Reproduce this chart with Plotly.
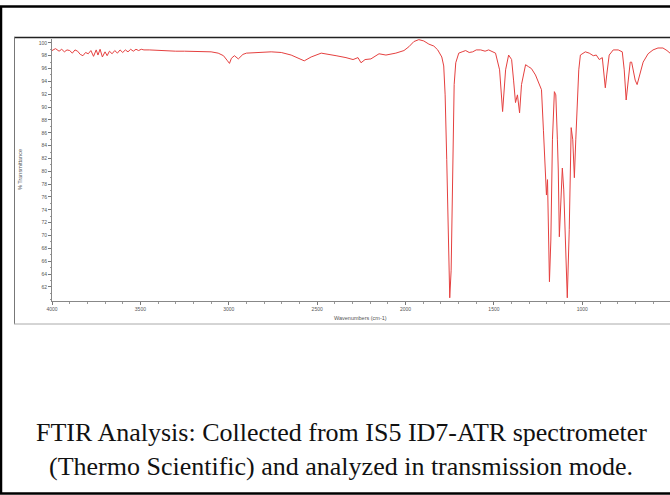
import plotly.graph_objects as go

# ---- data ----
wavenumber = [
    4000, 3980, 3960, 3945, 3930, 3915, 3900, 3885, 3870, 3855, 3840, 3825, 3810, 3795,
    3780, 3765, 3750, 3740, 3728, 3715, 3700, 3688, 3675, 3660, 3645, 3630, 3615, 3600,
    3585, 3570, 3555, 3540, 3525, 3510, 3495, 3480, 3450, 3400, 3350, 3300, 3250, 3200,
    3150, 3100, 3060, 3030, 3010, 2996, 2985, 2968, 2946, 2920, 2900, 2760, 2703, 2647,
    2573, 2534, 2477, 2449, 2393, 2337, 2297, 2269, 2252, 2229, 2196, 2150, 2111, 2055,
    2009, 1981, 1953, 1925, 1897, 1868, 1840, 1818, 1795, 1784, 1776, 1767, 1759, 1750,
    1742, 1733, 1725, 1716, 1699, 1680, 1660, 1640, 1620, 1600, 1575, 1550, 1530, 1491,
    1468, 1451, 1434, 1417, 1400, 1389, 1378, 1367, 1355, 1344, 1321, 1305, 1288, 1265,
    1248, 1231, 1220, 1209, 1203, 1197, 1192, 1186, 1178, 1169, 1158, 1150, 1141, 1136,
    1130, 1122, 1113, 1105, 1096, 1085, 1074, 1063, 1054, 1045, 1037, 1028, 1020, 1011,
    983, 961, 938, 921, 904, 887, 876, 870, 862, 848, 825, 797, 774, 763, 752, 741, 729,
    721, 712, 701, 690, 673, 656, 628, 600, 572, 544, 521, 504, 490,
]
transmittance = [
    98.8, 99.1, 98.7, 99.0, 98.6, 98.9, 98.8, 98.4, 98.9, 98.7, 98.2, 98.0, 98.5, 98.3,
    98.8, 97.9, 98.9, 98.1, 99.0, 97.8, 98.6, 98.0, 98.7, 98.3, 98.8, 98.4, 98.9, 98.5,
    98.9, 98.6, 99.0, 98.7, 99.0, 98.8, 99.0, 98.9, 98.9, 98.8, 98.8, 98.7, 98.7, 98.7,
    98.6, 98.6, 98.4, 98.0, 97.3, 96.8, 97.6, 98.0, 97.5, 98.2, 98.4, 98.6, 98.5, 98.1,
    97.2, 97.8, 98.4, 98.3, 98.0, 97.7, 97.4, 97.7, 96.9, 97.4, 97.5, 98.3, 98.1, 98.4,
    98.8, 99.4, 100.2, 100.5, 100.3, 99.8, 99.5, 98.9, 97.8, 96.4, 91.9, 81.8, 70.9, 60.3,
    64.6, 84.6, 93.5, 96.9, 98.4, 98.6, 98.8, 98.5, 98.6, 98.9, 98.9, 98.7, 98.9, 98.4,
    95.8, 89.3, 95.8, 98.1, 97.4, 94.2, 90.7, 91.9, 89.1, 93.5, 96.6, 96.3, 96.0, 95.0,
    93.8, 92.7, 86.4, 77.9, 76.3, 78.7, 70.9, 62.8, 69.3, 84.9, 92.4, 91.9, 84.9, 80.2,
    69.8, 75.5, 80.5, 77.1, 69.3, 60.3, 70.9, 86.8, 84.9, 79.0, 84.9, 90.8, 95.8, 98.1,
    98.6, 98.4, 98.0, 98.1, 97.4, 97.7, 95.0, 93.0, 95.0, 98.1, 98.9, 98.9, 98.6, 95.8,
    91.1, 94.2, 97.0, 97.0, 95.5, 94.2, 93.5, 95.5, 97.0, 98.3, 98.9, 99.2, 99.2, 98.8,
    98.4, 98.3,
]
x_ticks = [4000, 3500, 3000, 2500, 2000, 1500, 1000, 500]
x_tick_labels = ["4000", "3500", "3000", "2500", "2000", "1500", "1000", "500"]
y_ticks = list(range(62, 101, 2))
y_tick_labels = [str(v) for v in y_ticks]

x_title = "Wavenumbers (cm-1)"
y_title = "% Transmittance"
caption_1 = "FTIR Analysis: Collected from IS5 ID7-ATR spectrometer"
caption_2 = "(Thermo Scientific) and analyzed in transmission mode."

# ---- layout geometry (pixels) ----
W, H = 670, 495
ML, MR, MT, MB = 52, 0, 39, 194
PW = W - ML - MR
PH = H - MT - MB


def px(xpix):
    return (xpix - ML) / PW


def py(ypix):
    return (H - MB - ypix) / PH


fig = go.Figure()
fig.add_trace(go.Scatter(
    x=wavenumber, y=transmittance, mode="lines",
    line=dict(color="#e5403f", width=1), hoverinfo="skip",
))

tick_font = dict(family="Liberation Sans, Arial, sans-serif", size=5, color="#555555")

fig.update_layout(
    width=W, height=H,
    margin=dict(l=ML, r=MR, t=MT, b=MB, pad=0),
    paper_bgcolor="white", plot_bgcolor="white",
    showlegend=False,
    xaxis=dict(
        range=[4000, 504], tickmode="array", tickvals=x_ticks, ticktext=x_tick_labels,
        ticks="outside", ticklen=3, tickwidth=1, tickcolor="#777777",
        showline=True, linecolor="#888888", linewidth=1, mirror=False,
        showgrid=False, zeroline=False, tickfont=tick_font,
        minor=dict(tickmode="linear", tick0=0, dtick=100, ticks="outside", ticklen=2, tickcolor="#999999"),
    ),
    yaxis=dict(
        range=[59.8, 100.6], tickmode="array", tickvals=y_ticks, ticktext=y_tick_labels,
        ticks="outside", ticklen=3, tickwidth=1, tickcolor="#777777",
        showline=True, linecolor="#888888", linewidth=1,
        showgrid=False, zeroline=False, tickfont=tick_font,
        minor=dict(tickmode="linear", tick0=0, dtick=1, ticks="outside", ticklen=1.5, tickcolor="#999999"),
    ),
    shapes=[
        # outer frame
        dict(type="rect", xref="paper", yref="paper",
             x0=px(1), x1=px(720), y0=py(493.5), y1=py(6.5),
             line=dict(color="black", width=2.5), layer="above"),
        # chart image frame
        dict(type="line", xref="paper", yref="paper",
             x0=px(14), x1=px(720), y0=py(37.5), y1=py(37.5),
             line=dict(color="#222222", width=1.5)),
        dict(type="line", xref="paper", yref="paper",
             x0=px(14.5), x1=px(14.5), y0=py(37), y1=py(324),
             line=dict(color="#777777", width=1)),
        dict(type="line", xref="paper", yref="paper",
             x0=px(14), x1=px(720), y0=py(324), y1=py(324),
             line=dict(color="#aaaaaa", width=1)),
    ],
    annotations=[
        dict(text=x_title, xref="paper", yref="paper", x=px(360), y=py(318),
             xanchor="center", yanchor="middle", showarrow=False,
             font=dict(family="Liberation Sans, Arial, sans-serif", size=5.5, color="#555555")),
        dict(text=y_title, xref="paper", yref="paper", x=px(20), y=py(170),
             xanchor="center", yanchor="middle", showarrow=False, textangle=-90,
             font=dict(family="Liberation Sans, Arial, sans-serif", size=5.5, color="#555555")),
        dict(text=caption_1, xref="paper", yref="paper", x=px(341), y=py(432),
             xanchor="center", yanchor="middle", showarrow=False,
             font=dict(family="Liberation Serif, Times New Roman, serif", size=26, color="#111111")),
        dict(text=caption_2, xref="paper", yref="paper", x=px(341), y=py(467),
             xanchor="center", yanchor="middle", showarrow=False,
             font=dict(family="Liberation Serif, Times New Roman, serif", size=26, color="#111111")),
    ],
)

fig.write_html(
    "out.html",
    config={"displayModeBar": False},
    post_script=(
        "document.body.style.margin='0px';"
        "document.body.style.overflow='hidden';"
        "document.documentElement.style.overflow='hidden';"
    ),
)
